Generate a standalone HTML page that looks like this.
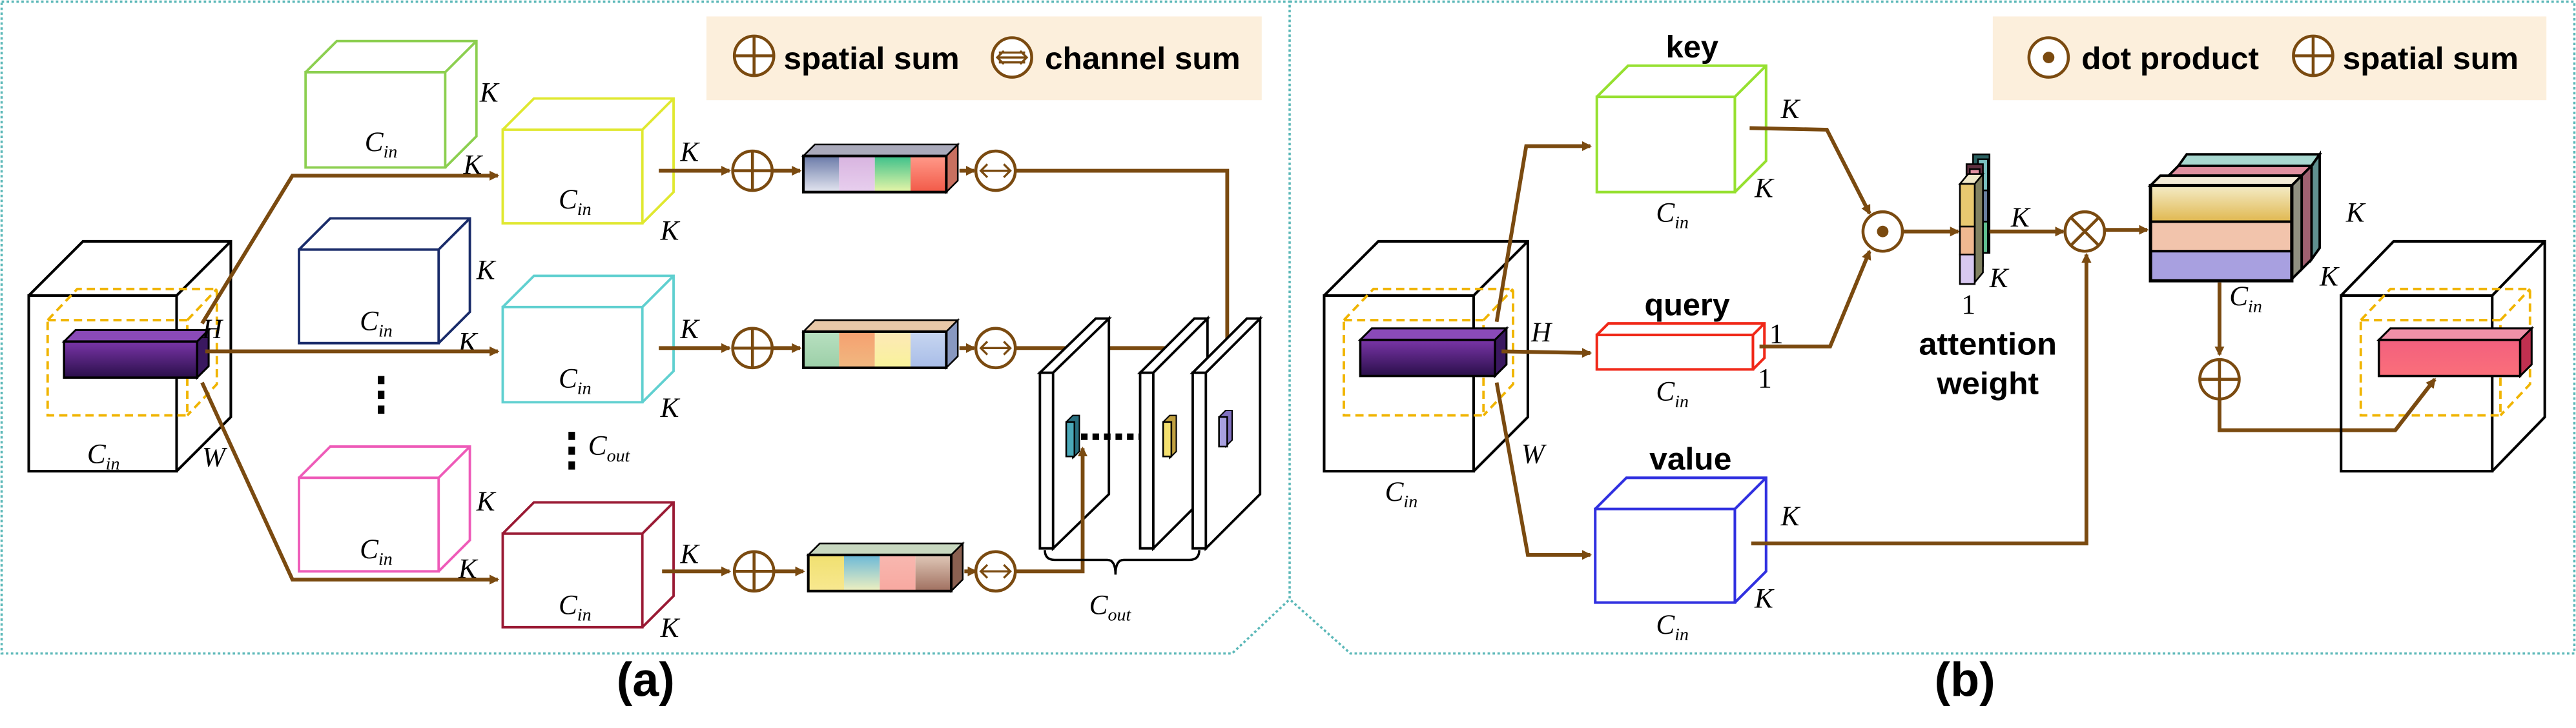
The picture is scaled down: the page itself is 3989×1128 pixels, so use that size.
<!DOCTYPE html>
<html><head><meta charset="utf-8"><style>
html,body{margin:0;padding:0;background:#fff;}
svg{display:block;}
.k{font-family:"Liberation Serif",serif;font-style:italic;font-size:17px;fill:#000;}
.s{font-size:11px;}
.lb{font-family:"Liberation Sans",sans-serif;font-weight:bold;font-size:19px;fill:#000;}
.br{stroke:#7a4a10;stroke-width:2.3;fill:none;}
.ci{stroke:#7a4a10;stroke-width:1.8;fill:#fff;}
</style></head><body>
<svg width="3989" height="1128" viewBox="0 0 1568 443.4" preserveAspectRatio="none" xmlns="http://www.w3.org/2000/svg">
<defs>
<marker id="ar" markerWidth="6" markerHeight="6" refX="5" refY="3" orient="auto" markerUnits="userSpaceOnUse"><path d="M0,0 L6,3 L0,6 z" fill="#7a4a10"/></marker>
<linearGradient id="pu" x1="0" y1="0" x2="0" y2="1"><stop offset="0" stop-color="#7a35a8"/><stop offset="1" stop-color="#2a0f4a"/></linearGradient>
<linearGradient id="pk" x1="0" y1="0" x2="0" y2="1"><stop offset="0" stop-color="#f2607e"/><stop offset="1" stop-color="#fb6f7a"/></linearGradient>
<linearGradient id="g1" x1="0" y1="0" x2="0" y2="1"><stop offset="0" stop-color="#6a7aa8"/><stop offset="1" stop-color="#e4e6f0"/></linearGradient>
<linearGradient id="g2" x1="0" y1="0" x2="0" y2="1"><stop offset="0" stop-color="#d8b4e0"/><stop offset="1" stop-color="#e8cfee"/></linearGradient>
<linearGradient id="g3" x1="0" y1="0" x2="0" y2="1"><stop offset="0" stop-color="#3cc08a"/><stop offset="1" stop-color="#e8f6a8"/></linearGradient>
<linearGradient id="g4" x1="0" y1="0" x2="0" y2="1"><stop offset="0" stop-color="#ff9a8a"/><stop offset="1" stop-color="#f25a48"/></linearGradient>
<linearGradient id="g5" x1="0" y1="0" x2="0" y2="1"><stop offset="0" stop-color="#b8e0c0"/><stop offset="1" stop-color="#9ccfa8"/></linearGradient>
<linearGradient id="g6" x1="0" y1="0" x2="0" y2="1"><stop offset="0" stop-color="#f6a070"/><stop offset="1" stop-color="#f0b880"/></linearGradient>
<linearGradient id="g7" x1="0" y1="0" x2="0" y2="1"><stop offset="0" stop-color="#fde8b8"/><stop offset="1" stop-color="#f8f39a"/></linearGradient>
<linearGradient id="g8" x1="0" y1="0" x2="0" y2="1"><stop offset="0" stop-color="#c8d6f0"/><stop offset="1" stop-color="#a8bde8"/></linearGradient>
<linearGradient id="g9" x1="0" y1="0" x2="0" y2="1"><stop offset="0" stop-color="#f0e070"/><stop offset="1" stop-color="#f8e890"/></linearGradient>
<linearGradient id="g10" x1="0" y1="0" x2="0" y2="1"><stop offset="0" stop-color="#6ab8d8"/><stop offset="1" stop-color="#f0f0c0"/></linearGradient>
<linearGradient id="g11" x1="0" y1="0" x2="0" y2="1"><stop offset="0" stop-color="#f8b8b0"/><stop offset="1" stop-color="#f8a8a0"/></linearGradient>
<linearGradient id="g12" x1="0" y1="0" x2="0" y2="1"><stop offset="0" stop-color="#e0c8b8"/><stop offset="1" stop-color="#a07060"/></linearGradient>
<linearGradient id="gy" x1="0" y1="0" x2="0" y2="1"><stop offset="0" stop-color="#f4ecc8"/><stop offset="1" stop-color="#e0b850"/></linearGradient>
</defs>

<path d="M1,1 H785 V365 L750,398 H1 Z" fill="none" stroke="#5bb8b8" stroke-width="1.4" stroke-dasharray="1.5,1.5"/>
<path d="M785,1 H1567 V398 H822 L785,365" fill="none" stroke="#5bb8b8" stroke-width="1.4" stroke-dasharray="1.5,1.5"/>
<text x="393" y="424" text-anchor="middle" font-family="Liberation Sans,sans-serif" font-weight="bold" font-size="29">(a)</text>
<text x="1196" y="424" text-anchor="middle" font-family="Liberation Sans,sans-serif" font-weight="bold" font-size="29">(b)</text>

<rect x="430" y="10" width="338" height="51" fill="#fcefdc"/>
<circle cx="459" cy="34" r="12" class="ci" fill="none"/><path d="M447,34 H471 M459,22 V46" stroke="#7a4a10" stroke-width="1.8"/>
<text x="477" y="42" class="lb" textLength="107" lengthAdjust="spacingAndGlyphs">spatial sum</text>
<circle cx="616" cy="35" r="12" class="ci"/><path d="M608,35 H624 M611,31 L607,35 L611,39 M621,31 L625,35 L621,39 M608,32 H624 M608,38 H624" stroke="#7a4a10" stroke-width="1.3" fill="none"/>
<text x="636" y="42" class="lb" textLength="119" lengthAdjust="spacingAndGlyphs">channel sum</text>
<rect x="1213" y="10" width="337" height="51" fill="#fcefdc"/>
<circle cx="1247" cy="35" r="12" class="ci"/><circle cx="1247" cy="35" r="3.5" fill="#7a4a10"/>
<text x="1267" y="42" class="lb" textLength="108" lengthAdjust="spacingAndGlyphs">dot product</text>
<circle cx="1408" cy="34" r="12" class="ci" fill="none"/><path d="M1396,34 H1420 M1408,22 V46" stroke="#7a4a10" stroke-width="1.8"/>
<text x="1426" y="42" class="lb" textLength="107" lengthAdjust="spacingAndGlyphs">spatial sum</text>

<!-- PANEL A -->
<path d="M17.5 180 h90 v107 h-90 z l33 -33 h90 v107 l-33 33 m0 -107 l33 -33" fill="none" stroke="#000" stroke-width="1.6"/>
<path d="M29 195 h85 v58 h-85 z l18 -19 h85 v58 l-18 19 m0 -58 l18 -19" fill="none" stroke="#f0b400" stroke-width="1.5" stroke-dasharray="5,3"/>
<path d="M39 208 l7 -7 h81 l-7 7 z" fill="#8a4ab8" stroke="#000" stroke-width="1.2"/>
<path d="M120 208 l7 -7 v22 l-7 7 z" fill="#3a1860" stroke="#000" stroke-width="1.2"/>
<rect x="39" y="208" width="81" height="22" fill="url(#pu)" stroke="#000" stroke-width="1.4"/>
<text x="123" y="206" class="k">H</text>
<text x="123" y="284" class="k">W</text>
<text x="53" y="282" class="k">C<tspan class="s" dy="4">in</tspan></text>

<path d="M186 44 h85 v58 h-85 z l19 -19 h85 v58 l-19 19 m0 -58 l19 -19" fill="none" stroke="#8ccf50" stroke-width="1.5"/>
<text x="222" y="92" class="k">C<tspan class="s" dy="4">in</tspan></text><text x="292" y="62" class="k">K</text><text x="282" y="106" class="k">K</text>
<path d="M306 79 h85 v57 h-85 z l19 -19 h85 v57 l-19 19 m0 -57 l19 -19" fill="none" stroke="#e0e830" stroke-width="1.5"/>
<text x="340" y="127" class="k">C<tspan class="s" dy="4">in</tspan></text><text x="402" y="146" class="k">K</text>

<path d="M182 152 h85 v57 h-85 z l19 -19 h85 v57 l-19 19 m0 -57 l19 -19" fill="none" stroke="#1a2c6a" stroke-width="1.5"/>
<text x="219" y="201" class="k">C<tspan class="s" dy="4">in</tspan></text><text x="290" y="170" class="k">K</text><text x="279" y="214" class="k">K</text>
<path d="M306 187 h85 v58 h-85 z l19 -19 h85 v58 l-19 19 m0 -58 l19 -19" fill="none" stroke="#60d0d0" stroke-width="1.5"/>
<text x="340" y="236" class="k">C<tspan class="s" dy="4">in</tspan></text><text x="402" y="254" class="k">K</text>

<path d="M182 291 h85 v57 h-85 z l19 -19 h85 v57 l-19 19 m0 -57 l19 -19" fill="none" stroke="#ee5ab8" stroke-width="1.5"/>
<text x="219" y="340" class="k">C<tspan class="s" dy="4">in</tspan></text><text x="290" y="311" class="k">K</text><text x="279" y="352" class="k">K</text>
<path d="M306 325 h85 v57 h-85 z l19 -19 h85 v57 l-19 19 m0 -57 l19 -19" fill="none" stroke="#9a1a34" stroke-width="1.5"/>
<text x="340" y="374" class="k">C<tspan class="s" dy="4">in</tspan></text><text x="402" y="388" class="k">K</text>

<path d="M232 229 v25" stroke="#000" stroke-width="4" stroke-dasharray="5,4"/>
<path d="M348 263 v25" stroke="#000" stroke-width="4" stroke-dasharray="5,4"/>
<text x="358" y="277" class="k">C<tspan class="s" dy="4">out</tspan></text>

<polyline points="123,197 178,107 303,107" class="br" marker-end="url(#ar)"/>
<polyline points="125,214 303,214" class="br" marker-end="url(#ar)"/>
<polyline points="123,233 178,353 303,353" class="br" marker-end="url(#ar)"/>

<g>
<polyline points="401,104 444,104" class="br" marker-end="url(#ar)"/><text x="414" y="98" class="k">K</text>
<circle cx="458" cy="104" r="12" class="ci"/><path d="M446,104 H470 M458,92 V116" stroke="#7a4a10" stroke-width="1.8"/>
<polyline points="470,104 487,104" class="br" marker-end="url(#ar)"/>
<path d="M489 95 l7 -7 h87 l-7 7 z" fill="#aab" stroke="#000" stroke-width="1"/>
<path d="M576 95 l7 -7 v22 l-7 7 z" fill="#c87060" stroke="#000" stroke-width="1"/>
<rect x="489" y="95" width="21.75" height="22" fill="url(#g1)"/><rect x="510.75" y="95" width="21.75" height="22" fill="url(#g2)"/><rect x="532.5" y="95" width="21.75" height="22" fill="url(#g3)"/><rect x="554.25" y="95" width="21.75" height="22" fill="url(#g4)"/>
<rect x="489" y="95" width="87" height="22" fill="none" stroke="#000" stroke-width="1.6"/>
<polyline points="584,104 593,104" class="br" marker-end="url(#ar)"/>
<circle cx="606" cy="104" r="12" class="ci"/><path d="M598,104 H614 M601,100 L597,104 L601,108 M611,100 L615,104 L611,108" stroke="#7a4a10" stroke-width="1.3" fill="none"/>
<polyline points="618,104 747,104 747,250" class="br" marker-end="url(#ar)"/>
</g>
<g>
<polyline points="401,212 444,212" class="br" marker-end="url(#ar)"/><text x="414" y="206" class="k">K</text>
<circle cx="458" cy="212" r="12" class="ci"/><path d="M446,212 H470 M458,200 V224" stroke="#7a4a10" stroke-width="1.8"/>
<polyline points="470,212 487,212" class="br" marker-end="url(#ar)"/>
<path d="M489 202 l7 -7 h87 l-7 7 z" fill="#e8c8a8" stroke="#000" stroke-width="1"/>
<path d="M576 202 l7 -7 v22 l-7 7 z" fill="#8898c0" stroke="#000" stroke-width="1"/>
<rect x="489" y="202" width="21.75" height="22" fill="url(#g5)"/><rect x="510.75" y="202" width="21.75" height="22" fill="url(#g6)"/><rect x="532.5" y="202" width="21.75" height="22" fill="url(#g7)"/><rect x="554.25" y="202" width="21.75" height="22" fill="url(#g8)"/>
<rect x="489" y="202" width="87" height="22" fill="none" stroke="#000" stroke-width="1.6"/>
<polyline points="584,212 593,212" class="br" marker-end="url(#ar)"/>
<circle cx="606" cy="212" r="12" class="ci"/><path d="M598,212 H614 M601,208 L597,212 L601,216 M611,208 L615,212 L611,216" stroke="#7a4a10" stroke-width="1.3" fill="none"/>
<polyline points="618,212 714,212 714,250" class="br" marker-end="url(#ar)"/>
</g>
<g>
<polyline points="403,348 444,348" class="br" marker-end="url(#ar)"/><text x="414" y="343" class="k">K</text>
<circle cx="459" cy="348" r="12" class="ci"/><path d="M447,348 H471 M459,336 V360" stroke="#7a4a10" stroke-width="1.8"/>
<polyline points="471,348 489,348" class="br" marker-end="url(#ar)"/>
<path d="M492 338 l7 -7 h87 l-7 7 z" fill="#c8d8c0" stroke="#000" stroke-width="1"/>
<path d="M579 338 l7 -7 v22 l-7 7 z" fill="#8a6050" stroke="#000" stroke-width="1"/>
<rect x="492" y="338" width="21.75" height="22" fill="url(#g9)"/><rect x="513.75" y="338" width="21.75" height="22" fill="url(#g10)"/><rect x="535.5" y="338" width="21.75" height="22" fill="url(#g11)"/><rect x="557.25" y="338" width="21.75" height="22" fill="url(#g12)"/>
<rect x="492" y="338" width="87" height="22" fill="none" stroke="#000" stroke-width="1.6"/>
<polyline points="587,348 594,348" class="br" marker-end="url(#ar)"/>
<circle cx="606" cy="348" r="12" class="ci"/><path d="M598,348 H614 M601,344 L597,348 L601,352 M611,344 L615,348 L611,352" stroke="#7a4a10" stroke-width="1.3" fill="none"/>
</g>

<g fill="#fff" stroke="#000" stroke-width="1.5">
<path d="M633 227 l8 0 l34 -33 l-8 0 z M641 227 v107 l34 -33 v-107 z M633 227 h8 v107 h-8 z"/>
<path d="M694 227 l8 0 l33 -33 l-8 0 z M702 227 v107 l33 -33 v-107 z M694 227 h8 v107 h-8 z"/>
<path d="M726 227 l8 0 l33 -33 l-8 0 z M734 227 v107 l33 -33 v-107 z M726 227 h8 v107 h-8 z"/>
</g>
<path d="M649 257 l4 -4 h4 v22 l-4 4 z" fill="#2a7080" stroke="#000" stroke-width="0.8"/><rect x="649" y="257" width="5" height="21" fill="#4aa8b8" stroke="#000" stroke-width="1"/>
<path d="M708 257 l4 -4 h4 v22 l-4 4 z" fill="#c0a040" stroke="#000" stroke-width="0.8"/><rect x="708" y="257" width="5" height="21" fill="#f4e070" stroke="#000" stroke-width="1"/>
<path d="M742 254 l4 -4 h4 v18 l-4 4 z" fill="#8070c0" stroke="#000" stroke-width="0.8"/><rect x="742" y="254" width="5" height="18" fill="#a8a0e0" stroke="#000" stroke-width="1"/>
<path d="M658 266 H694" stroke="#000" stroke-width="4" stroke-dasharray="4,3"/>
<polyline points="618,348 659,348 659,273" class="br" marker-end="url(#ar)"/>
<path d="M636 335 q0 6 6 6 h32 q5 0 5 9 q0 -9 5 -9 h40 q6 0 6 -6" fill="none" stroke="#000" stroke-width="1.4"/>
<text x="663" y="374" class="k">C<tspan class="s" dy="4">out</tspan></text>

<!-- PANEL B -->
<path d="M806 180 h91 v107 h-91 z l33 -33 h91 v107 l-33 33 m0 -107 l33 -33" fill="none" stroke="#000" stroke-width="1.6"/>
<path d="M818 195 h85 v58 h-85 z l18 -19 h85 v58 l-18 19 m0 -58 l18 -19" fill="none" stroke="#f0b400" stroke-width="1.5" stroke-dasharray="5,3"/>
<path d="M828 207 l7 -7 h82 l-7 7 z" fill="#8a4ab8" stroke="#000" stroke-width="1.2"/>
<path d="M910 207 l7 -7 v22 l-7 7 z" fill="#3a1860" stroke="#000" stroke-width="1.2"/>
<rect x="828" y="207" width="82" height="22" fill="url(#pu)" stroke="#000" stroke-width="1.4"/>
<text x="932" y="208" class="k">H</text>
<text x="926" y="282" class="k">W</text>
<text x="843" y="305" class="k">C<tspan class="s" dy="4">in</tspan></text>

<text x="1030" y="35" text-anchor="middle" class="lb" textLength="32" lengthAdjust="spacingAndGlyphs">key</text>
<path d="M972 59 h84 v58 h-84 z l19 -19 h84 v58 l-19 19 m0 -58 l19 -19" fill="none" stroke="#96e030" stroke-width="1.6"/>
<text x="1084" y="72" class="k">K</text><text x="1068" y="120" class="k">K</text>
<text x="1008" y="135" class="k">C<tspan class="s" dy="4">in</tspan></text>

<text x="1027" y="192" text-anchor="middle" class="lb" textLength="52" lengthAdjust="spacingAndGlyphs">query</text>
<path d="M972 204 h95 v21 h-95 z l7 -7 h95 v21 l-7 7 m0 -21 l7 -7" fill="none" stroke="#f02818" stroke-width="1.6"/>
<text x="1077" y="209" class="k" style="font-style:normal">1</text><text x="1070" y="236" class="k" style="font-style:normal">1</text>
<text x="1008" y="244" class="k">C<tspan class="s" dy="4">in</tspan></text>

<text x="1029" y="286" text-anchor="middle" class="lb" textLength="50" lengthAdjust="spacingAndGlyphs">value</text>
<path d="M971 310 h85 v57 h-85 z l19 -19 h85 v57 l-19 19 m0 -57 l19 -19" fill="none" stroke="#3030e0" stroke-width="1.6"/>
<text x="1084" y="320" class="k">K</text><text x="1068" y="370" class="k">K</text>
<text x="1008" y="386" class="k">C<tspan class="s" dy="4">in</tspan></text>

<polyline points="911,196 929,89 968,89" class="br" marker-end="url(#ar)"/>
<polyline points="914,214 968,215" class="br" marker-end="url(#ar)"/>
<polyline points="911,233 930,338 968,338" class="br" marker-end="url(#ar)"/>

<polyline points="1065,78 1112,79 1138,130" class="br" marker-end="url(#ar)"/>
<polyline points="1071,211 1114,211 1138,153" class="br" marker-end="url(#ar)"/>
<circle cx="1146" cy="141" r="12" class="ci"/><circle cx="1146" cy="141" r="3.5" fill="#7a4a10"/>
<polyline points="1158,141 1192,141" class="br" marker-end="url(#ar)"/>

<g stroke="#000" stroke-width="1">
<rect x="1201" y="94" width="10" height="60" fill="#2a6060"/>
<rect x="1204" y="97" width="6" height="19" fill="#7ac0c0"/><rect x="1204" y="116" width="6" height="19" fill="#6a80a0"/><rect x="1204" y="135" width="6" height="19" fill="#60c090"/>
<rect x="1197" y="100" width="10" height="62" fill="#603040"/>
<rect x="1199" y="103" width="6" height="19" fill="#e090a0"/><rect x="1199" y="122" width="6" height="19" fill="#9080b0"/><rect x="1199" y="141" width="6" height="19" fill="#808080"/>
<path d="M1193 112 l5 -6 h9 l-5 6 z" fill="#f0e8c8"/>
<path d="M1202 112 l5 -6 v60 l-5 6 z" fill="#808060"/>
<rect x="1193" y="112" width="9" height="26" fill="#e8c870"/><rect x="1193" y="138" width="9" height="17" fill="#f0b890"/><rect x="1193" y="155" width="9" height="18" fill="#d8c8f0"/>
</g>
<text x="1194" y="191" class="k" style="font-style:normal">1</text>
<text x="1224" y="138" class="k">K</text><text x="1211" y="175" class="k">K</text>
<text x="1210" y="216" text-anchor="middle" class="lb" textLength="84" lengthAdjust="spacingAndGlyphs">attention</text>
<text x="1210" y="240" text-anchor="middle" class="lb" textLength="62" lengthAdjust="spacingAndGlyphs">weight</text>

<polyline points="1211,141 1256,141" class="br" marker-end="url(#ar)"/>
<circle cx="1269" cy="141" r="12" class="ci"/><path d="M1261,133 L1277,149 M1277,133 L1261,149" stroke="#7a4a10" stroke-width="1.8"/>
<polyline points="1281,140 1307,140" class="br" marker-end="url(#ar)"/>
<polyline points="1066,331 1270,331 1270,155" class="br" marker-end="url(#ar)"/>

<g stroke="#000" stroke-width="1.5">
<path d="M1326 101 l5 -7 h81 l-5 7 z" fill="#a8d8d0"/>
<path d="M1407 101 l5 -7 v57 l-5 7 z" fill="#609090"/>
<path d="M1320 107 l6 -6 h81 l-6 6 z" fill="#e090a0"/>
<path d="M1401 107 l6 -6 v57 l-6 6 z" fill="#a06070"/>
<path d="M1309 113 l6 -6 h86 l-6 6 z" fill="#f4ecd8"/>
<path d="M1395 113 l6 -6 v57 l-6 6 z" fill="#909080"/>
<rect x="1309" y="113" width="86" height="22" fill="url(#gy)"/>
<rect x="1309" y="135" width="86" height="18" fill="#f2c4ac"/>
<rect x="1309" y="153" width="86" height="18" fill="#a8a0e0"/>
<rect x="1309" y="113" width="86" height="58" fill="none" stroke-width="2"/>
</g>
<text x="1428" y="135" class="k">K</text><text x="1412" y="174" class="k">K</text>
<text x="1357" y="186" class="k">C<tspan class="s" dy="4">in</tspan></text>

<polyline points="1351,172 1351,216" class="br" marker-end="url(#ar)"/>
<circle cx="1351" cy="231" r="12" class="ci" fill="none"/><path d="M1339,231 H1363 M1351,219 V243" stroke="#7a4a10" stroke-width="1.8"/>
<polyline points="1351,243 1351,262 1458,262 1482,231" class="br" marker-end="url(#ar)"/>

<path d="M1425 180 h92 v107 h-92 z l32 -33 h92 v107 l-32 33 m0 -107 l32 -33" fill="none" stroke="#000" stroke-width="1.6"/>
<path d="M1437 195 h85 v58 h-85 z l18 -19 h85 v58 l-18 19 m0 -58 l18 -19" fill="none" stroke="#f0b400" stroke-width="1.5" stroke-dasharray="5,3"/>
<path d="M1448 207 l7 -7 h86 l-7 7 z" fill="#f090a8" stroke="#000" stroke-width="1.2"/>
<path d="M1534 207 l7 -7 v22 l-7 7 z" fill="#c03050" stroke="#000" stroke-width="1.2"/>
<rect x="1448" y="207" width="86" height="22" fill="url(#pk)" stroke="#000" stroke-width="1.4"/>
<polyline points="1458,262 1482,231" class="br" marker-end="url(#ar)"/>
</svg>
</body></html>
